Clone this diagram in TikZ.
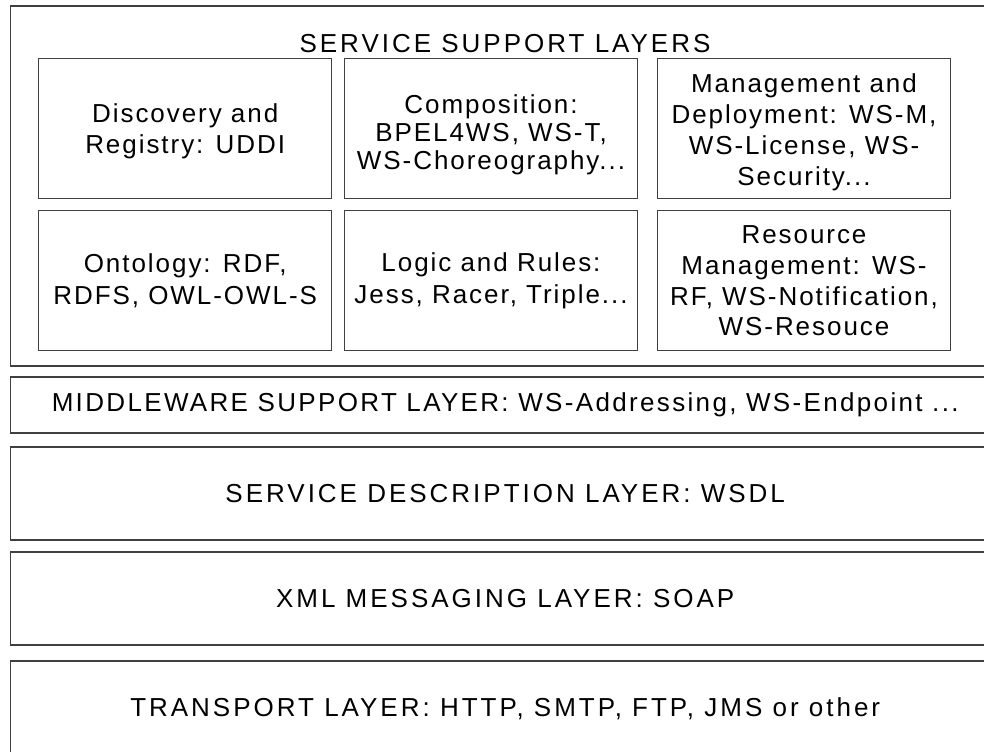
\documentclass[tikz,border=0pt]{standalone}
\usepackage{fontspec}
\setmainfont{Liberation Sans}
\newfontfamily\boxfont[LetterSpace=7.5]{Liberation Sans}
\newfontfamily\capfont[LetterSpace=11.5]{Liberation Sans}
\newfontfamily\midfont[LetterSpace=9]{Liberation Sans}
\newcommand\toplift[1]{\rule{0pt}{#1}}% abaisse le texte
\tikzset{
  ws_base/.style = {draw=black!75, line width=0.6pt, inner sep=0pt,
    align=center, font=\boxfont\fontsize{13}{16}\selectfont},
  ws_group/.style = {ws_base, minimum width=494.75pt,
    minimum height=180pt},% cadre des couches de support
  ws_sub/.style = {ws_base, minimum width=146.5pt,
    minimum height=70pt},% petite boite interne
  ws_lines/.style = {font=\boxfont\fontsize{13}{#1}\selectfont},% interligne
  ws_layer/.style = {ws_base, font=\capfont\fontsize{13}{16}\selectfont,
    minimum width=494.75pt},% couche pleine largeur
  ws_title/.style = {inner sep=0pt, font=\capfont\fontsize{13}{16}\selectfont}
}

\begin{document}
\begin{tikzpicture}[x=1pt, y=-1pt]
\useasboundingbox (0,0) rectangle (492,375.5);
\clip (0,0) rectangle (492,375.5);
\node [ws_group] (support) at (252.6,93) {};
\node [ws_title, anchor=base] (support_t) at (252.5,26) {SERVICE SUPPORT LAYERS};
\node [ws_sub, ws_lines=15.5pt] (discovery) at (92.6,64.1) {\toplift{12.5pt}Discovery and\\Registry: UDDI};
\node [ws_sub, ws_lines=14pt] (composition) at (245.5,64.1) {\toplift{15.5pt}Composition:\\BPEL4WS, WS-T,\\WS-Choreography...};
\node [ws_sub, ws_lines=15.4pt] (management) at (402,64.1) {\toplift{13.5pt}Management and\\Deployment: WS-M,\\WS-License, WS-\\Security...};
\node [ws_sub] (ontology) at (92.6,140.4) {Ontology: RDF,\\RDFS, OWL-OWL-S};
\node [ws_sub] (logic) at (245.5,140.4) {Logic and Rules:\\Jess, Racer, Triple...};
\node [ws_sub, ws_lines=15.4pt] (resource) at (402,140.4) {Resource\\Management: WS-\\RF, WS-Notification,\\WS-Resouce};
\node [ws_layer, minimum height=28pt, font=\midfont\fontsize{13}{16}\selectfont] (middleware) at (252.6,202.5)
  {MIDDLEWARE SUPPORT LAYER: WS-Addressing, WS-Endpoint ...};
\node [ws_layer, minimum height=46.5pt] (description) at (252.6,246.75)
  {SERVICE DESCRIPTION LAYER: WSDL};
\node [ws_layer, minimum height=46.5pt] (messaging) at (252.6,299.25)
  {XML MESSAGING LAYER: SOAP};
\node [ws_layer, minimum height=47.5pt] (transport) at (252.6,354.25)
  {TRANSPORT LAYER: HTTP, SMTP, FTP, JMS or other};
\end{tikzpicture}
\end{document}
